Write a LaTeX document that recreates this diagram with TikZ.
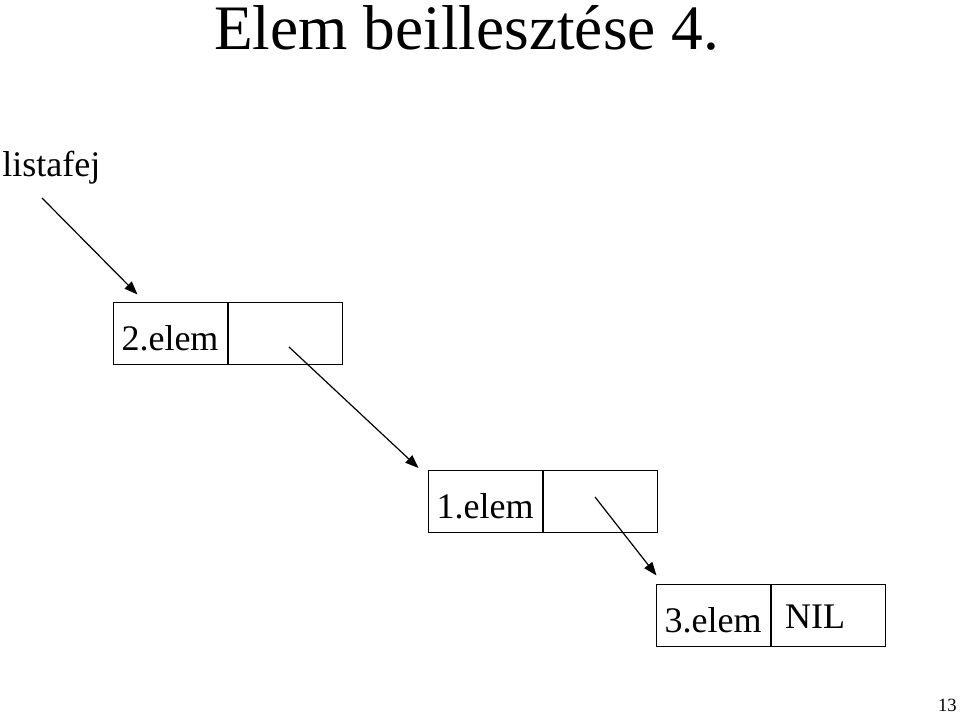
\documentclass[tikz,border=0pt]{standalone}
\usepackage{fontspec}
\setmainfont{Liberation Serif}
\usetikzlibrary{positioning,calc,arrows.meta}

\begin{document}
\begin{tikzpicture}[x=0.75pt,y=-0.75pt,
  cell/.style={draw, line width=0.75pt, minimum width=85.5pt, minimum height=46.5pt,
    inner sep=0pt, text height=25.5pt, text depth=0pt, font=\fontsize{27}{30}\selectfont},
  txt/.style={inner sep=0pt, font=\fontsize{27}{30}\selectfont},
  ptr/.style={-{Triangle[length=10pt,width=7.5pt]}, line width=0.9pt}]
\useasboundingbox (0,0) rectangle (960,716);

\node[anchor=base west, inner sep=0pt, font=\fontsize{47.5}{52}\selectfont] (title) at (214,50) {Elem beillesztése 4.};
\node[txt, anchor=base west] (head) at (2,177) {listafej};

\node[cell] (e2a) at (170,334) {2.elem};
\node[cell, right=0pt of e2a] (e2b) {};
\node[cell] (e1a) at (485,501.5) {1.elem};
\node[cell, right=0pt of e1a] (e1b) {};
\node[cell] (e3a) at (713,615.5) {3.elem};
\node[cell, right=0pt of e3a] (e3b) {};
\node[txt, anchor=base] (nil) at ($(e3b.center)+(-13,12.5)$) {NIL};

\node[anchor=base east, inner sep=0pt, font=\fontsize{14}{16}\selectfont] (page) at (957,711) {13};

\coordinate (p0) at (42,198);
\coordinate (p2) at ($(e2b.center)+(4,13)$);
\coordinate (p1) at ($(e1b.center)+(-5,-4.5)$);

\draw[ptr] (p0) -- ($(e2a.north west)+(25,-8)$);
\draw[ptr] (p2) -- ($(e1a.north west)+(-9,-2)$);
\draw[ptr] (p1) -- ($(e3a.north west)+(1,-8.5)$);
\end{tikzpicture}
\end{document}
